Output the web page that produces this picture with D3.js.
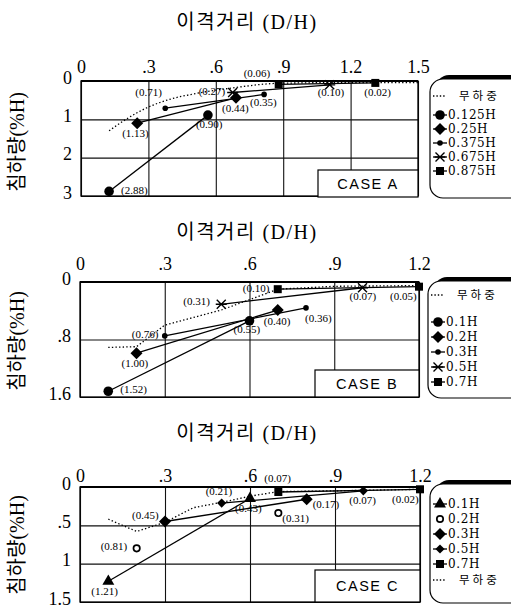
<!DOCTYPE html>
<html>
<head>
<meta charset="utf-8">
<script src="https://cdn.jsdelivr.net/npm/d3@7"></script>
<style>
  body { margin: 0; background: #fff; }
  svg { display: block; }
</style>
</head>
<body>
<script>
// ---------------- data ----------------
// each point: [D/H, settlement %H, printed label]

// CASE A
var A_xTicks = [0, 0.3, 0.6, 0.9, 1.2, 1.5];
var A_xTickLabels = ["0", ".3", ".6", ".9", "1.2", "1.5"];
var A_yTicks = [0, 1, 2, 3];
var A_yTickLabels = ["0", "1", "2", "3"];
var A_noLoad = [[0.125, 1.30], [0.2, 1.0], [0.3, 0.68], [0.4, 0.47], [0.5, 0.34], [0.6, 0.24],
                [0.675, 0.18], [0.88, 0.06], [1.2, 0.04], [1.5, 0.04]];
var A_h0125 = [[0.125, 2.88, "(2.88)"], [0.565, 0.89, "(0.90)"]];
var A_h025  = [[0.25, 1.10, "(1.13)"], [0.69, 0.44, "(0.44)"]];
var A_h0375 = [[0.375, 0.71, "(0.71)"], [0.815, 0.35, "(0.35)"]];
var A_h0675 = [[0.675, 0.30, "(0.27)"], [1.107, 0.10, "(0.10)"]];
var A_h0875 = [[0.88, 0.09, "(0.06)"], [1.31, 0.05, "(0.02)"]];

// CASE B
var B_xTicks = [0, 0.3, 0.6, 0.9, 1.2];
var B_xTickLabels = ["0", ".3", ".6", ".9", "1.2"];
var B_yTicks = [0, 0.8, 1.6];
var B_yTickLabels = ["0", ".8", "1.6"];
var B_noLoad = [[0.1, 0.91], [0.2, 0.90], [0.3, 0.60], [0.5, 0.39], [0.7, 0.10], [0.9, 0.06], [1.2, 0.05]];
var B_h01 = [[0.1, 1.52, "(1.52)"], [0.6, 0.54, "(0.55)"]];
var B_h02 = [[0.2, 0.99, "(1.00)"], [0.7, 0.39, "(0.40)"]];
var B_h03 = [[0.3, 0.75, "(0.76)"], [0.8, 0.36, "(0.36)"]];
var B_h05 = [[0.5, 0.31, "(0.31)"], [1.0, 0.08, "(0.07)"]];
var B_h07 = [[0.7, 0.10, "(0.10)"], [1.2, 0.065, "(0.05)"]];

// CASE C
var C_xTicks = [0, 0.3, 0.6, 0.9, 1.2];
var C_xTickLabels = ["0", ".3", ".6", ".9", "1.2"];
var C_yTicks = [0, 0.5, 1, 1.5];
var C_yTickLabels = ["0", ".5", "1", "1.5"];
var C_noLoad = [[0.1, 0.42], [0.2, 0.58], [0.3, 0.46], [0.4, 0.27], [0.5, 0.20], [0.6, 0.12],
                [0.7, 0.06], [0.9, 0.05], [1.2, 0.03]];
var C_h01 = [[0.1, 1.23, "(1.21)"], [0.6, 0.15, "(0.43)"]];
var C_h02 = [[0.2, 0.80, "(0.81)"], [0.7, 0.34, "(0.31)"]];
var C_h03 = [[0.3, 0.45, "(0.45)"], [0.8, 0.16, "(0.17)"]];
var C_h05 = [[0.5, 0.21, "(0.21)"], [1.0, 0.05, "(0.07)"]];
var C_h07 = [[0.7, 0.065, "(0.07)"], [1.2, 0.03, "(0.02)"]];

var TITLE = "이격거리 (D/H)";
var YLABEL = "침하량(%H)";
var NOLOAD = "무하중";

// ---------------- layout ----------------
var SERIF = "'Liberation Serif', 'Noto Sans CJK KR', serif";
var LSERIF = "'DejaVu Serif', 'Noto Sans CJK KR', serif";
var KR = "'Noto Sans CJK KR', sans-serif";

var svg = d3.select("body").append("svg").attr("width", 511).attr("height", 608);

function drawMarker(sel, type, cx, cy) {
  var g = sel.append("g").attr("transform", "translate(" + cx + "," + cy + ")");
  if (type == "circle") g.append("circle").attr("r", 4.8).attr("fill", "#000");
  if (type == "dot") g.append("circle").attr("r", 2.8).attr("fill", "#000");
  if (type == "diamond") g.append("path").attr("d", "M0,-6L6,0L0,6L-6,0Z").attr("fill", "#000");
  if (type == "sdiamond") g.append("path").attr("d", "M0,-4.6L4.6,0L0,4.6L-4.6,0Z").attr("fill", "#000");
  if (type == "square") g.append("rect").attr("x", -4).attr("y", -4).attr("width", 8).attr("height", 8).attr("fill", "#000");
  if (type == "x") g.append("path").attr("d", "M-4.5,-4.5L4.5,4.5M-4.5,4.5L4.5,-4.5M-5.5,0L5.5,0")
                    .attr("stroke", "#000").attr("stroke-width", 1.4).attr("fill", "none");
  if (type == "triangle") g.append("path").attr("d", d3.symbol(d3.symbolTriangle, 62)()).attr("fill", "#000");
  if (type == "ocircle") g.append("circle").attr("r", 3.2).attr("fill", "#fff").attr("stroke", "#000").attr("stroke-width", 1.7);
}

function drawPanel(p) {
  var x = d3.scaleLinear().domain(p.xDomain).range([p.left, p.right]);
  var y = d3.scaleLinear().domain(p.yDomain).range([p.top, p.bottom]);
  var g = svg.append("g");

  // title
  g.append("text").attr("x", 247).attr("y", p.titleY)
    .attr("text-anchor", "middle").attr("font-family", SERIF).attr("font-size", 20)
    .attr("letter-spacing", 1.5).text(TITLE);

  // y title
  g.append("text").attr("transform", "translate(24," + p.yTitleY + ") rotate(-90)")
    .attr("text-anchor", "middle").attr("font-family", SERIF).attr("font-size", 20)
    .text(YLABEL);

  // grid + tick labels
  var xa = g.append("g").attr("transform", "translate(0," + p.top + ")")
    .call(d3.axisTop(x).tickValues(p.xTicks).tickSize(-(p.bottom - p.top))
      .tickPadding(p.xPad).tickFormat(function (d, i) { return p.xTickLabels[i]; }));
  var ya = g.append("g").attr("transform", "translate(" + p.left + ",0)")
    .call(d3.axisLeft(y).tickValues(p.yTicks).tickSize(-(p.right - p.left))
      .tickPadding(9).tickFormat(function (d, i) { return p.yTickLabels[i]; }));
  [xa, ya].forEach(function (a) {
    a.select(".domain").remove();
    a.selectAll(".tick line").attr("stroke", "#111").attr("stroke-width", 1.1);
    a.selectAll(".tick text").attr("font-family", SERIF).attr("font-size", 18).attr("fill", "#000");
  });
  ya.selectAll(".tick text").attr("dy", "0.12em");

  // frame
  g.append("rect").attr("x", p.left).attr("y", p.top).attr("width", p.right - p.left)
    .attr("height", p.bottom - p.top).attr("fill", "none").attr("stroke", "#000").attr("stroke-width", 1.3);
  g.append("line").attr("x1", p.left).attr("x2", p.right).attr("y1", p.top).attr("y2", p.top)
    .attr("stroke", "#000").attr("stroke-width", 2.2);

  // case box
  g.append("rect").attr("x", p.caseBox[0]).attr("y", p.caseBox[1]).attr("width", p.caseBox[2])
    .attr("height", p.caseBox[3]).attr("fill", "#fff").attr("stroke", "#000").attr("stroke-width", 1.2);
  g.append("text").attr("x", p.caseBox[0] + p.caseBox[2] / 2).attr("y", p.caseBox[1] + p.caseBox[3] / 2 + 5)
    .attr("text-anchor", "middle").attr("font-family", "'Liberation Sans', Arial, sans-serif")
    .attr("font-size", 14.5).attr("letter-spacing", 1.5).text(p.caseText);

  // no-load dotted curve
  var dotted = d3.line().x(function (d) { return x(d[0]); }).y(function (d) { return y(d[1]); })
    .curve(p.smooth ? d3.curveMonotoneX : d3.curveLinear);
  g.append("path").attr("d", dotted(p.noLoad)).attr("fill", "none").attr("stroke", "#000")
    .attr("stroke-width", 1.3).attr("stroke-dasharray", "1.4,2.2");

  // series
  var line = d3.line().x(function (d) { return x(d[0]); }).y(function (d) { return y(d[1]); });
  p.series.forEach(function (s) {
    if (s.line) g.append("path").attr("d", line(s.data)).attr("fill", "none")
      .attr("stroke", "#000").attr("stroke-width", 1.3);
  });
  p.series.forEach(function (s) {
    s.data.forEach(function (d, i) {
      drawMarker(g, s.type, x(d[0]), y(d[1]));
      g.append("text").attr("x", x(d[0]) + s.off[i][0]).attr("y", y(d[1]) + s.off[i][1])
        .attr("font-family", SERIF).attr("font-size", 11).text(d[2]);
    });
  });

  // legend
  var L = p.legend;
  var lg = g.append("g");
  lg.append("rect").attr("x", L.x + 6).attr("y", L.y - 4).attr("width", 100).attr("height", L.h)
    .attr("rx", 13).attr("fill", "#000");
  lg.append("rect").attr("x", L.x).attr("y", L.y).attr("width", 100).attr("height", L.h)
    .attr("rx", 13).attr("fill", "#fff").attr("stroke", "#000").attr("stroke-width", 1.2);
  L.items.forEach(function (it, i) {
    var cy = L.rows[i];
    if (it.type == "noload") {
      lg.append("line").attr("x1", L.x + 3).attr("x2", L.x + 16).attr("y1", cy).attr("y2", cy)
        .attr("stroke", "#000").attr("stroke-width", 1.3).attr("stroke-dasharray", "1.4,2");
      lg.append("text").attr("x", L.x + 29).attr("y", cy + 4).attr("font-family", KR)
        .attr("font-size", 11.5).attr("letter-spacing", 3).text(NOLOAD);
    } else {
      if (it.line) lg.append("line").attr("x1", L.x + 3).attr("x2", L.x + 17).attr("y1", cy).attr("y2", cy)
        .attr("stroke", "#000").attr("stroke-width", 1.3);
      drawMarker(lg, it.type, L.x + 10, cy);
      lg.append("text").attr("x", L.x + 18).attr("y", cy + 4.3).attr("font-family", LSERIF)
        .attr("font-size", 12).attr("letter-spacing", 0.6).text(it.label);
    }
  });
}

drawPanel({
  xDomain: [0, 1.5], yDomain: [0, 3], left: 81, right: 418, top: 81, bottom: 196,
  xTicks: A_xTicks, xTickLabels: A_xTickLabels, yTicks: A_yTicks, yTickLabels: A_yTickLabels,
  xPad: 8, titleY: 29, yTitleY: 142, smooth: true, caseText: "CASE  A", caseBox: [318, 170, 100, 27],
  noLoad: A_noLoad,
  series: [
    { data: A_h0125, type: "circle", line: true, off: [[12, 3], [-12, 13]] },
    { data: A_h025, type: "diamond", line: true, off: [[-15, 14], [-14, 14]] },
    { data: A_h0375, type: "dot", line: true, off: [[-30, -12], [-14, 12]] },
    { data: A_h0675, type: "x", line: true, off: [[-34, 2], [-12, 11]] },
    { data: A_h0875, type: "square", line: true, off: [[-35, -7], [-11, 13]] }
  ],
  legend: { x: 430, y: 79, h: 119, rows: [96, 115, 129, 143, 157, 171],
    items: [{ type: "noload" }, { type: "circle", line: true, label: "0.125H" },
      { type: "diamond", line: true, label: "0.25H" }, { type: "dot", line: true, label: "0.375H" },
      { type: "x", line: true, label: "0.675H" }, { type: "square", line: true, label: "0.875H" }] }
});

drawPanel({
  xDomain: [0, 1.2], yDomain: [0, 1.6], left: 80, right: 419, top: 282, bottom: 397,
  xTicks: B_xTicks, xTickLabels: B_xTickLabels, yTicks: B_yTicks, yTickLabels: B_yTickLabels,
  xPad: 12, titleY: 239, yTitleY: 341, smooth: false, caseText: "CASE  B", caseBox: [315, 370, 104, 27],
  noLoad: B_noLoad,
  series: [
    { data: B_h01, type: "circle", line: true, off: [[12, 2], [-16, 12]] },
    { data: B_h02, type: "diamond", line: true, off: [[-15, 14], [-14, 15]] },
    { data: B_h03, type: "dot", line: true, off: [[-33, 2], [-1, 14]] },
    { data: B_h05, type: "x", line: true, off: [[-38, 1], [-13, 12]] },
    { data: B_h07, type: "square", line: true, off: [[-35, 3], [-29, 13]] }
  ],
  legend: { x: 428, y: 281, h: 117, rows: [295, 322, 337, 352, 367, 382],
    items: [{ type: "noload" }, { type: "circle", line: true, label: "0.1H" },
      { type: "diamond", line: true, label: "0.2H" }, { type: "dot", line: true, label: "0.3H" },
      { type: "x", line: true, label: "0.5H" }, { type: "square", line: true, label: "0.7H" }] }
});

drawPanel({
  xDomain: [0, 1.2], yDomain: [0, 1.5], left: 80, right: 420, top: 487, bottom: 602,
  xTicks: C_xTicks, xTickLabels: C_xTickLabels, yTicks: C_yTicks, yTickLabels: C_yTickLabels,
  xPad: 5, titleY: 440, yTitleY: 545, smooth: false, caseText: "CASE  C", caseBox: [315, 570, 105, 32],
  noLoad: C_noLoad,
  series: [
    { data: C_h01, type: "triangle", line: true, off: [[-17, 14], [-15, 13]] },
    { data: C_h02, type: "ocircle", line: false, off: [[-36, 2], [4, 9]] },
    { data: C_h03, type: "diamond", line: true, off: [[-33, -3], [6, 9]] },
    { data: C_h05, type: "sdiamond", line: true, off: [[-16, -8], [-14, 13]] },
    { data: C_h07, type: "square", line: true, off: [[-14, -10], [-28, 14]] }
  ],
  legend: { x: 430, y: 484, h: 119, rows: [504, 519, 534, 549, 564, 580],
    items: [{ type: "triangle", line: true, label: "0.1H" }, { type: "ocircle", line: false, label: "0.2H" },
      { type: "diamond", line: true, label: "0.3H" }, { type: "sdiamond", line: true, label: "0.5H" },
      { type: "square", line: true, label: "0.7H" }, { type: "noload" }] }
});
</script>
</body>
</html>
